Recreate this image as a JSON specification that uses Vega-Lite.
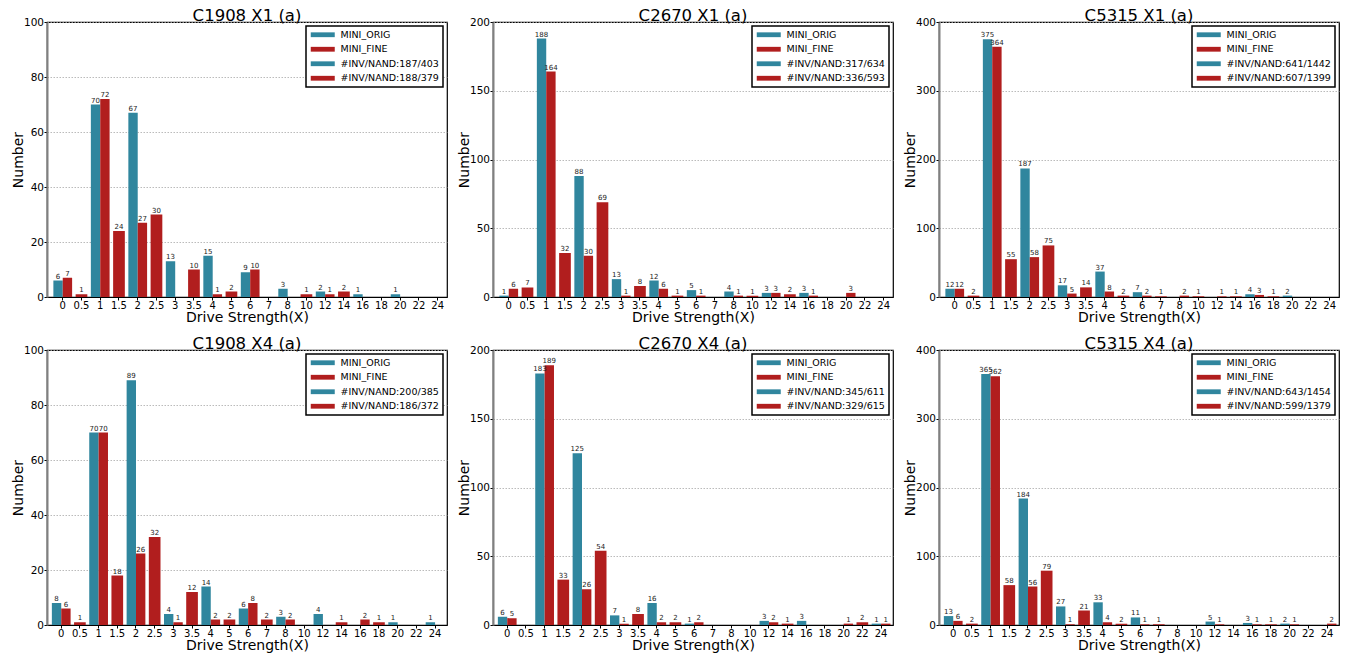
{
 "$schema": "https://vega.github.io/schema/vega-lite/v6.json",
 "padding": {"left": 10, "top": 6, "right": 5, "bottom": 2},
 "background": "white",
 "datasets": {"d": [
  {"p":"C1908 X1","ds":"0","s":"MINI_ORIG","n":6},{"p":"C1908 X1","ds":"1","s":"MINI_ORIG","n":70},{"p":"C1908 X1","ds":"2","s":"MINI_ORIG","n":67},{"p":"C1908 X1","ds":"3","s":"MINI_ORIG","n":13},{"p":"C1908 X1","ds":"4","s":"MINI_ORIG","n":15},{"p":"C1908 X1","ds":"6","s":"MINI_ORIG","n":9},{"p":"C1908 X1","ds":"8","s":"MINI_ORIG","n":3},{"p":"C1908 X1","ds":"12","s":"MINI_ORIG","n":2},{"p":"C1908 X1","ds":"16","s":"MINI_ORIG","n":1},{"p":"C1908 X1","ds":"20","s":"MINI_ORIG","n":1},
  {"p":"C1908 X1","ds":"0","s":"MINI_FINE","n":7},{"p":"C1908 X1","ds":"0.5","s":"MINI_FINE","n":1},{"p":"C1908 X1","ds":"1","s":"MINI_FINE","n":72},{"p":"C1908 X1","ds":"1.5","s":"MINI_FINE","n":24},{"p":"C1908 X1","ds":"2","s":"MINI_FINE","n":27},{"p":"C1908 X1","ds":"2.5","s":"MINI_FINE","n":30},{"p":"C1908 X1","ds":"3.5","s":"MINI_FINE","n":10},{"p":"C1908 X1","ds":"4","s":"MINI_FINE","n":1},{"p":"C1908 X1","ds":"5","s":"MINI_FINE","n":2},{"p":"C1908 X1","ds":"6","s":"MINI_FINE","n":10},{"p":"C1908 X1","ds":"10","s":"MINI_FINE","n":1},{"p":"C1908 X1","ds":"12","s":"MINI_FINE","n":1},{"p":"C1908 X1","ds":"14","s":"MINI_FINE","n":2},
  {"p":"C2670 X1","ds":"0","s":"MINI_ORIG","n":1},{"p":"C2670 X1","ds":"1","s":"MINI_ORIG","n":188},{"p":"C2670 X1","ds":"2","s":"MINI_ORIG","n":88},{"p":"C2670 X1","ds":"3","s":"MINI_ORIG","n":13},{"p":"C2670 X1","ds":"4","s":"MINI_ORIG","n":12},{"p":"C2670 X1","ds":"6","s":"MINI_ORIG","n":5},{"p":"C2670 X1","ds":"8","s":"MINI_ORIG","n":4},{"p":"C2670 X1","ds":"12","s":"MINI_ORIG","n":3},{"p":"C2670 X1","ds":"16","s":"MINI_ORIG","n":3},
  {"p":"C2670 X1","ds":"0","s":"MINI_FINE","n":6},{"p":"C2670 X1","ds":"0.5","s":"MINI_FINE","n":7},{"p":"C2670 X1","ds":"1","s":"MINI_FINE","n":164},{"p":"C2670 X1","ds":"1.5","s":"MINI_FINE","n":32},{"p":"C2670 X1","ds":"2","s":"MINI_FINE","n":30},{"p":"C2670 X1","ds":"2.5","s":"MINI_FINE","n":69},{"p":"C2670 X1","ds":"3","s":"MINI_FINE","n":1},{"p":"C2670 X1","ds":"3.5","s":"MINI_FINE","n":8},{"p":"C2670 X1","ds":"4","s":"MINI_FINE","n":6},{"p":"C2670 X1","ds":"5","s":"MINI_FINE","n":1},{"p":"C2670 X1","ds":"6","s":"MINI_FINE","n":1},{"p":"C2670 X1","ds":"8","s":"MINI_FINE","n":1},{"p":"C2670 X1","ds":"10","s":"MINI_FINE","n":1},{"p":"C2670 X1","ds":"12","s":"MINI_FINE","n":3},{"p":"C2670 X1","ds":"14","s":"MINI_FINE","n":2},{"p":"C2670 X1","ds":"16","s":"MINI_FINE","n":1},{"p":"C2670 X1","ds":"20","s":"MINI_FINE","n":3},
  {"p":"C5315 X1","ds":"0","s":"MINI_ORIG","n":12},{"p":"C5315 X1","ds":"1","s":"MINI_ORIG","n":375},{"p":"C5315 X1","ds":"2","s":"MINI_ORIG","n":187},{"p":"C5315 X1","ds":"3","s":"MINI_ORIG","n":17},{"p":"C5315 X1","ds":"4","s":"MINI_ORIG","n":37},{"p":"C5315 X1","ds":"6","s":"MINI_ORIG","n":7},{"p":"C5315 X1","ds":"16","s":"MINI_ORIG","n":4},{"p":"C5315 X1","ds":"20","s":"MINI_ORIG","n":2},
  {"p":"C5315 X1","ds":"0","s":"MINI_FINE","n":12},{"p":"C5315 X1","ds":"0.5","s":"MINI_FINE","n":2},{"p":"C5315 X1","ds":"1","s":"MINI_FINE","n":364},{"p":"C5315 X1","ds":"1.5","s":"MINI_FINE","n":55},{"p":"C5315 X1","ds":"2","s":"MINI_FINE","n":58},{"p":"C5315 X1","ds":"2.5","s":"MINI_FINE","n":75},{"p":"C5315 X1","ds":"3","s":"MINI_FINE","n":5},{"p":"C5315 X1","ds":"3.5","s":"MINI_FINE","n":14},{"p":"C5315 X1","ds":"4","s":"MINI_FINE","n":8},{"p":"C5315 X1","ds":"5","s":"MINI_FINE","n":2},{"p":"C5315 X1","ds":"6","s":"MINI_FINE","n":2},{"p":"C5315 X1","ds":"7","s":"MINI_FINE","n":1},{"p":"C5315 X1","ds":"8","s":"MINI_FINE","n":2},{"p":"C5315 X1","ds":"10","s":"MINI_FINE","n":1},{"p":"C5315 X1","ds":"12","s":"MINI_FINE","n":1},{"p":"C5315 X1","ds":"14","s":"MINI_FINE","n":1},{"p":"C5315 X1","ds":"16","s":"MINI_FINE","n":3},{"p":"C5315 X1","ds":"18","s":"MINI_FINE","n":1},
  {"p":"C1908 X4","ds":"0","s":"MINI_ORIG","n":8},{"p":"C1908 X4","ds":"1","s":"MINI_ORIG","n":70},{"p":"C1908 X4","ds":"2","s":"MINI_ORIG","n":89},{"p":"C1908 X4","ds":"3","s":"MINI_ORIG","n":4},{"p":"C1908 X4","ds":"4","s":"MINI_ORIG","n":14},{"p":"C1908 X4","ds":"6","s":"MINI_ORIG","n":6},{"p":"C1908 X4","ds":"8","s":"MINI_ORIG","n":3},{"p":"C1908 X4","ds":"12","s":"MINI_ORIG","n":4},{"p":"C1908 X4","ds":"20","s":"MINI_ORIG","n":1},{"p":"C1908 X4","ds":"24","s":"MINI_ORIG","n":1},
  {"p":"C1908 X4","ds":"0","s":"MINI_FINE","n":6},{"p":"C1908 X4","ds":"0.5","s":"MINI_FINE","n":1},{"p":"C1908 X4","ds":"1","s":"MINI_FINE","n":70},{"p":"C1908 X4","ds":"1.5","s":"MINI_FINE","n":18},{"p":"C1908 X4","ds":"2","s":"MINI_FINE","n":26},{"p":"C1908 X4","ds":"2.5","s":"MINI_FINE","n":32},{"p":"C1908 X4","ds":"3","s":"MINI_FINE","n":1},{"p":"C1908 X4","ds":"3.5","s":"MINI_FINE","n":12},{"p":"C1908 X4","ds":"4","s":"MINI_FINE","n":2},{"p":"C1908 X4","ds":"5","s":"MINI_FINE","n":2},{"p":"C1908 X4","ds":"6","s":"MINI_FINE","n":8},{"p":"C1908 X4","ds":"7","s":"MINI_FINE","n":2},{"p":"C1908 X4","ds":"8","s":"MINI_FINE","n":2},{"p":"C1908 X4","ds":"14","s":"MINI_FINE","n":1},{"p":"C1908 X4","ds":"16","s":"MINI_FINE","n":2},{"p":"C1908 X4","ds":"18","s":"MINI_FINE","n":1},
  {"p":"C2670 X4","ds":"0","s":"MINI_ORIG","n":6},{"p":"C2670 X4","ds":"1","s":"MINI_ORIG","n":183},{"p":"C2670 X4","ds":"2","s":"MINI_ORIG","n":125},{"p":"C2670 X4","ds":"3","s":"MINI_ORIG","n":7},{"p":"C2670 X4","ds":"4","s":"MINI_ORIG","n":16},{"p":"C2670 X4","ds":"6","s":"MINI_ORIG","n":1},{"p":"C2670 X4","ds":"12","s":"MINI_ORIG","n":3},{"p":"C2670 X4","ds":"16","s":"MINI_ORIG","n":3},{"p":"C2670 X4","ds":"24","s":"MINI_ORIG","n":1},
  {"p":"C2670 X4","ds":"0","s":"MINI_FINE","n":5},{"p":"C2670 X4","ds":"1","s":"MINI_FINE","n":189},{"p":"C2670 X4","ds":"1.5","s":"MINI_FINE","n":33},{"p":"C2670 X4","ds":"2","s":"MINI_FINE","n":26},{"p":"C2670 X4","ds":"2.5","s":"MINI_FINE","n":54},{"p":"C2670 X4","ds":"3","s":"MINI_FINE","n":1},{"p":"C2670 X4","ds":"3.5","s":"MINI_FINE","n":8},{"p":"C2670 X4","ds":"4","s":"MINI_FINE","n":2},{"p":"C2670 X4","ds":"5","s":"MINI_FINE","n":2},{"p":"C2670 X4","ds":"6","s":"MINI_FINE","n":2},{"p":"C2670 X4","ds":"12","s":"MINI_FINE","n":2},{"p":"C2670 X4","ds":"14","s":"MINI_FINE","n":1},{"p":"C2670 X4","ds":"20","s":"MINI_FINE","n":1},{"p":"C2670 X4","ds":"22","s":"MINI_FINE","n":2},{"p":"C2670 X4","ds":"24","s":"MINI_FINE","n":1},
  {"p":"C5315 X4","ds":"0","s":"MINI_ORIG","n":13},{"p":"C5315 X4","ds":"1","s":"MINI_ORIG","n":365},{"p":"C5315 X4","ds":"2","s":"MINI_ORIG","n":184},{"p":"C5315 X4","ds":"3","s":"MINI_ORIG","n":27},{"p":"C5315 X4","ds":"4","s":"MINI_ORIG","n":33},{"p":"C5315 X4","ds":"6","s":"MINI_ORIG","n":11},{"p":"C5315 X4","ds":"12","s":"MINI_ORIG","n":5},{"p":"C5315 X4","ds":"16","s":"MINI_ORIG","n":3},{"p":"C5315 X4","ds":"20","s":"MINI_ORIG","n":2},
  {"p":"C5315 X4","ds":"0","s":"MINI_FINE","n":6},{"p":"C5315 X4","ds":"0.5","s":"MINI_FINE","n":2},{"p":"C5315 X4","ds":"1","s":"MINI_FINE","n":362},{"p":"C5315 X4","ds":"1.5","s":"MINI_FINE","n":58},{"p":"C5315 X4","ds":"2","s":"MINI_FINE","n":56},{"p":"C5315 X4","ds":"2.5","s":"MINI_FINE","n":79},{"p":"C5315 X4","ds":"3","s":"MINI_FINE","n":1},{"p":"C5315 X4","ds":"3.5","s":"MINI_FINE","n":21},{"p":"C5315 X4","ds":"4","s":"MINI_FINE","n":4},{"p":"C5315 X4","ds":"5","s":"MINI_FINE","n":2},{"p":"C5315 X4","ds":"6","s":"MINI_FINE","n":1},{"p":"C5315 X4","ds":"7","s":"MINI_FINE","n":1},{"p":"C5315 X4","ds":"12","s":"MINI_FINE","n":1},{"p":"C5315 X4","ds":"16","s":"MINI_FINE","n":1},{"p":"C5315 X4","ds":"18","s":"MINI_FINE","n":1},{"p":"C5315 X4","ds":"20","s":"MINI_FINE","n":1},{"p":"C5315 X4","ds":"24","s":"MINI_FINE","n":2}
 ]},
 "spacing": 9,
 "resolve": {"scale": {"color": "independent", "y": "independent", "x": "independent"}, "legend": {"color": "independent"}},
 "vconcat": [
  {"spacing": 8,
   "resolve": {"scale": {"color": "independent", "y": "independent", "x": "independent"}, "legend": {"color": "independent"}},
   "hconcat": [
    {"width": 400, "height": 275, "title": "C1908 X1 (a)", "data": {"name": "d"},
     "transform": [{"filter": "datum.p == 'C1908 X1'"}],
     "encoding": {
      "x": {"field": "ds", "type": "ordinal", "title": "Drive Strength(X)", "scale": {"domain": ["0","0.5","1","1.5","2","2.5","3","3.5","4","5","6","7","8","10","12","14","16","18","20","22","24"], "paddingInner": 0, "paddingOuter": 0.17, "align": 1}},
      "y": {"field": "n", "type": "quantitative", "title": "Number", "scale": {"domain": [0, 100], "nice": false}, "axis": {"values": [0,20,40,60,80,100]}},
      "color": {"field": "s", "type": "nominal", "scale": {"domain": ["MINI_ORIG","MINI_FINE","#INV/NAND:187/403","#INV/NAND:188/379"], "range": ["#30869e","#b11e1e","#30869e","#b11e1e"]}, "legend": {"title": null}}
     },
     "layer": [
      {"transform": [{"filter": "indexof(['0.5','1.5','2.5','3.5','5','7','10','14','18','22'], datum.ds) < 0"}], "mark": {"type": "bar"}, "encoding": {"xOffset": {"field": "s", "scale": {"domain": ["MINI_ORIG","MINI_FINE"], "paddingInner": 0, "paddingOuter": -0.2}}}},
      {"transform": [{"filter": "indexof(['0.5','1.5','2.5','3.5','5','7','10','14','18','22'], datum.ds) >= 0"}], "mark": {"type": "bar", "width": {"band": 0.625}}},
      {"transform": [{"filter": "indexof(['0.5','1.5','2.5','3.5','5','7','10','14','18','22'], datum.ds) < 0"}], "mark": {"type": "text"}, "encoding": {"xOffset": {"field": "s", "scale": {"domain": ["MINI_ORIG","MINI_FINE"], "paddingInner": 0, "paddingOuter": -0.2}}, "text": {"field": "n"}, "color": {"value": "#222222"}}},
      {"transform": [{"filter": "indexof(['0.5','1.5','2.5','3.5','5','7','10','14','18','22'], datum.ds) >= 0"}], "mark": {"type": "text"}, "encoding": {"text": {"field": "n"}, "color": {"value": "#222222"}}}
     ]},
    {"width": 400, "height": 275, "title": "C2670 X1 (a)", "data": {"name": "d"},
     "transform": [{"filter": "datum.p == 'C2670 X1'"}],
     "encoding": {
      "x": {"field": "ds", "type": "ordinal", "title": "Drive Strength(X)", "scale": {"domain": ["0","0.5","1","1.5","2","2.5","3","3.5","4","5","6","7","8","10","12","14","16","18","20","22","24"], "paddingInner": 0, "paddingOuter": 0.17, "align": 1}},
      "y": {"field": "n", "type": "quantitative", "title": "Number", "scale": {"domain": [0, 200], "nice": false}, "axis": {"values": [0,50,100,150,200]}},
      "color": {"field": "s", "type": "nominal", "scale": {"domain": ["MINI_ORIG","MINI_FINE","#INV/NAND:317/634","#INV/NAND:336/593"], "range": ["#30869e","#b11e1e","#30869e","#b11e1e"]}, "legend": {"title": null}}
     },
     "layer": [
      {"transform": [{"filter": "indexof(['0.5','1.5','2.5','3.5','5','7','10','14','18','22'], datum.ds) < 0"}], "mark": {"type": "bar"}, "encoding": {"xOffset": {"field": "s", "scale": {"domain": ["MINI_ORIG","MINI_FINE"], "paddingInner": 0, "paddingOuter": -0.2}}}},
      {"transform": [{"filter": "indexof(['0.5','1.5','2.5','3.5','5','7','10','14','18','22'], datum.ds) >= 0"}], "mark": {"type": "bar", "width": {"band": 0.625}}},
      {"transform": [{"filter": "indexof(['0.5','1.5','2.5','3.5','5','7','10','14','18','22'], datum.ds) < 0"}], "mark": {"type": "text"}, "encoding": {"xOffset": {"field": "s", "scale": {"domain": ["MINI_ORIG","MINI_FINE"], "paddingInner": 0, "paddingOuter": -0.2}}, "text": {"field": "n"}, "color": {"value": "#222222"}}},
      {"transform": [{"filter": "indexof(['0.5','1.5','2.5','3.5','5','7','10','14','18','22'], datum.ds) >= 0"}], "mark": {"type": "text"}, "encoding": {"text": {"field": "n"}, "color": {"value": "#222222"}}}
     ]},
    {"width": 400, "height": 275, "title": "C5315 X1 (a)", "data": {"name": "d"},
     "transform": [{"filter": "datum.p == 'C5315 X1'"}],
     "encoding": {
      "x": {"field": "ds", "type": "ordinal", "title": "Drive Strength(X)", "scale": {"domain": ["0","0.5","1","1.5","2","2.5","3","3.5","4","5","6","7","8","10","12","14","16","18","20","22","24"], "paddingInner": 0, "paddingOuter": 0.17, "align": 1}},
      "y": {"field": "n", "type": "quantitative", "title": "Number", "scale": {"domain": [0, 400], "nice": false}, "axis": {"values": [0,100,200,300,400]}},
      "color": {"field": "s", "type": "nominal", "scale": {"domain": ["MINI_ORIG","MINI_FINE","#INV/NAND:641/1442","#INV/NAND:607/1399"], "range": ["#30869e","#b11e1e","#30869e","#b11e1e"]}, "legend": {"title": null}}
     },
     "layer": [
      {"transform": [{"filter": "indexof(['0.5','1.5','2.5','3.5','5','7','10','14','18','22'], datum.ds) < 0"}], "mark": {"type": "bar"}, "encoding": {"xOffset": {"field": "s", "scale": {"domain": ["MINI_ORIG","MINI_FINE"], "paddingInner": 0, "paddingOuter": -0.2}}}},
      {"transform": [{"filter": "indexof(['0.5','1.5','2.5','3.5','5','7','10','14','18','22'], datum.ds) >= 0"}], "mark": {"type": "bar", "width": {"band": 0.625}}},
      {"transform": [{"filter": "indexof(['0.5','1.5','2.5','3.5','5','7','10','14','18','22'], datum.ds) < 0"}], "mark": {"type": "text"}, "encoding": {"xOffset": {"field": "s", "scale": {"domain": ["MINI_ORIG","MINI_FINE"], "paddingInner": 0, "paddingOuter": -0.2}}, "text": {"field": "n"}, "color": {"value": "#222222"}}},
      {"transform": [{"filter": "indexof(['0.5','1.5','2.5','3.5','5','7','10','14','18','22'], datum.ds) >= 0"}], "mark": {"type": "text"}, "encoding": {"text": {"field": "n"}, "color": {"value": "#222222"}}}
     ]}
   ]},
  {"spacing": 8,
   "resolve": {"scale": {"color": "independent", "y": "independent", "x": "independent"}, "legend": {"color": "independent"}},
   "hconcat": [
    {"width": 400, "height": 275, "title": "C1908 X4 (a)", "data": {"name": "d"},
     "transform": [{"filter": "datum.p == 'C1908 X4'"}],
     "encoding": {
      "x": {"field": "ds", "type": "ordinal", "title": "Drive Strength(X)", "scale": {"domain": ["0","0.5","1","1.5","2","2.5","3","3.5","4","5","6","7","8","10","12","14","16","18","20","22","24"], "paddingInner": 0, "paddingOuter": 0.2, "align": 0.65}},
      "y": {"field": "n", "type": "quantitative", "title": "Number", "scale": {"domain": [0, 100], "nice": false}, "axis": {"values": [0,20,40,60,80,100]}},
      "color": {"field": "s", "type": "nominal", "scale": {"domain": ["MINI_ORIG","MINI_FINE","#INV/NAND:200/385","#INV/NAND:186/372"], "range": ["#30869e","#b11e1e","#30869e","#b11e1e"]}, "legend": {"title": null}}
     },
     "layer": [
      {"transform": [{"filter": "indexof(['0.5','1.5','2.5','3.5','5','7','10','14','18','22'], datum.ds) < 0"}], "mark": {"type": "bar"}, "encoding": {"xOffset": {"field": "s", "scale": {"domain": ["MINI_ORIG","MINI_FINE"], "paddingInner": 0, "paddingOuter": -0.2}}}},
      {"transform": [{"filter": "indexof(['0.5','1.5','2.5','3.5','5','7','10','14','18','22'], datum.ds) >= 0"}], "mark": {"type": "bar", "width": {"band": 0.625}}},
      {"transform": [{"filter": "indexof(['0.5','1.5','2.5','3.5','5','7','10','14','18','22'], datum.ds) < 0"}], "mark": {"type": "text"}, "encoding": {"xOffset": {"field": "s", "scale": {"domain": ["MINI_ORIG","MINI_FINE"], "paddingInner": 0, "paddingOuter": -0.2}}, "text": {"field": "n"}, "color": {"value": "#222222"}}},
      {"transform": [{"filter": "indexof(['0.5','1.5','2.5','3.5','5','7','10','14','18','22'], datum.ds) >= 0"}], "mark": {"type": "text"}, "encoding": {"text": {"field": "n"}, "color": {"value": "#222222"}}}
     ]},
    {"width": 400, "height": 275, "title": "C2670 X4 (a)", "data": {"name": "d"},
     "transform": [{"filter": "datum.p == 'C2670 X4'"}],
     "encoding": {
      "x": {"field": "ds", "type": "ordinal", "title": "Drive Strength(X)", "scale": {"domain": ["0","0.5","1","1.5","2","2.5","3","3.5","4","5","6","7","8","10","12","14","16","18","20","22","24"], "paddingInner": 0, "paddingOuter": 0.2, "align": 0.65}},
      "y": {"field": "n", "type": "quantitative", "title": "Number", "scale": {"domain": [0, 200], "nice": false}, "axis": {"values": [0,50,100,150,200]}},
      "color": {"field": "s", "type": "nominal", "scale": {"domain": ["MINI_ORIG","MINI_FINE","#INV/NAND:345/611","#INV/NAND:329/615"], "range": ["#30869e","#b11e1e","#30869e","#b11e1e"]}, "legend": {"title": null}}
     },
     "layer": [
      {"transform": [{"filter": "indexof(['0.5','1.5','2.5','3.5','5','7','10','14','18','22'], datum.ds) < 0"}], "mark": {"type": "bar"}, "encoding": {"xOffset": {"field": "s", "scale": {"domain": ["MINI_ORIG","MINI_FINE"], "paddingInner": 0, "paddingOuter": -0.2}}}},
      {"transform": [{"filter": "indexof(['0.5','1.5','2.5','3.5','5','7','10','14','18','22'], datum.ds) >= 0"}], "mark": {"type": "bar", "width": {"band": 0.625}}},
      {"transform": [{"filter": "indexof(['0.5','1.5','2.5','3.5','5','7','10','14','18','22'], datum.ds) < 0"}], "mark": {"type": "text"}, "encoding": {"xOffset": {"field": "s", "scale": {"domain": ["MINI_ORIG","MINI_FINE"], "paddingInner": 0, "paddingOuter": -0.2}}, "text": {"field": "n"}, "color": {"value": "#222222"}}},
      {"transform": [{"filter": "indexof(['0.5','1.5','2.5','3.5','5','7','10','14','18','22'], datum.ds) >= 0"}], "mark": {"type": "text"}, "encoding": {"text": {"field": "n"}, "color": {"value": "#222222"}}}
     ]},
    {"width": 400, "height": 275, "title": "C5315 X4 (a)", "data": {"name": "d"},
     "transform": [{"filter": "datum.p == 'C5315 X4'"}],
     "encoding": {
      "x": {"field": "ds", "type": "ordinal", "title": "Drive Strength(X)", "scale": {"domain": ["0","0.5","1","1.5","2","2.5","3","3.5","4","5","6","7","8","10","12","14","16","18","20","22","24"], "paddingInner": 0, "paddingOuter": 0.2, "align": 0.65}},
      "y": {"field": "n", "type": "quantitative", "title": "Number", "scale": {"domain": [0, 400], "nice": false}, "axis": {"values": [0,100,200,300,400]}},
      "color": {"field": "s", "type": "nominal", "scale": {"domain": ["MINI_ORIG","MINI_FINE","#INV/NAND:643/1454","#INV/NAND:599/1379"], "range": ["#30869e","#b11e1e","#30869e","#b11e1e"]}, "legend": {"title": null}}
     },
     "layer": [
      {"transform": [{"filter": "indexof(['0.5','1.5','2.5','3.5','5','7','10','14','18','22'], datum.ds) < 0"}], "mark": {"type": "bar"}, "encoding": {"xOffset": {"field": "s", "scale": {"domain": ["MINI_ORIG","MINI_FINE"], "paddingInner": 0, "paddingOuter": -0.2}}}},
      {"transform": [{"filter": "indexof(['0.5','1.5','2.5','3.5','5','7','10','14','18','22'], datum.ds) >= 0"}], "mark": {"type": "bar", "width": {"band": 0.625}}},
      {"transform": [{"filter": "indexof(['0.5','1.5','2.5','3.5','5','7','10','14','18','22'], datum.ds) < 0"}], "mark": {"type": "text"}, "encoding": {"xOffset": {"field": "s", "scale": {"domain": ["MINI_ORIG","MINI_FINE"], "paddingInner": 0, "paddingOuter": -0.2}}, "text": {"field": "n"}, "color": {"value": "#222222"}}},
      {"transform": [{"filter": "indexof(['0.5','1.5','2.5','3.5','5','7','10','14','18','22'], datum.ds) >= 0"}], "mark": {"type": "text"}, "encoding": {"text": {"field": "n"}, "color": {"value": "#222222"}}}
     ]}
   ]}
 ],
 "config": {
  "font": "DejaVu Sans",
  "view": {"stroke": "black", "strokeWidth": 1.2},
  "title": {"fontSize": 16.5, "fontWeight": "normal", "offset": -7, "color": "black"},
  "axis": {"labelColor": "black", "titleColor": "black", "titleFontWeight": "normal", "titleFontSize": 14, "tickColor": "black", "domainColor": "black"},
  "axisX": {"labelAngle": 0, "labelFontSize": 10, "tickSize": 3, "labelPadding": 0, "titlePadding": 0, "grid": false},
  "axisY": {"labelFontSize": 10.5, "tickSize": 3, "labelPadding": 0.5, "titlePadding": 0, "minExtent": 22, "maxExtent": 22, "grid": true, "gridDash": [1.5, 1.5], "gridColor": "#aaaaaa", "gridWidth": 0.8, "domainColor": "#808080", "domainWidth": 2},
  "legend": {"orient": "top-right", "offset": 4, "padding": 4, "strokeColor": "black", "strokeWidth": 1.5, "fillColor": "white", "symbolType": "M-1,-0.6H5V0.6H-1Z", "symbolSize": 64, "symbolStrokeWidth": 0, "labelFontSize": 9.5, "labelOffset": 21, "rowPadding": 3.5, "labelColor": "black", "cornerRadius": 0},
  "text": {"fontSize": 7, "baseline": "bottom", "dy": -1}
 }
}
